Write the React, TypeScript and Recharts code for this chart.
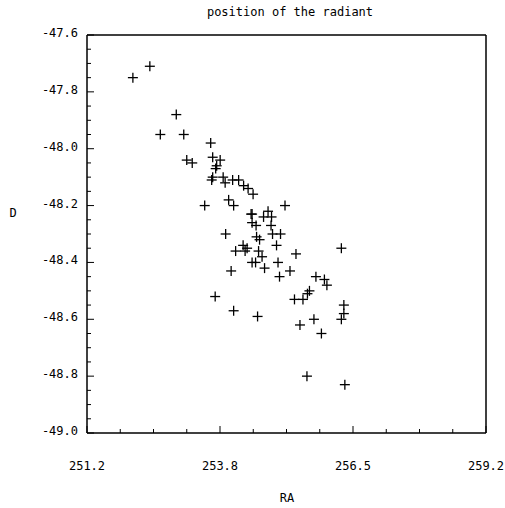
import { ScatterChart, Scatter, XAxis, YAxis } from 'recharts';

const RA = [252.12, 252.46, 252.99, 252.67, 253.14, 253.68, 253.2, 253.31, 253.72, 253.87, 253.8, 253.78, 253.7, 253.72, 253.93, 253.97, 254.12, 254.24, 254.34, 254.43, 254.53, 253.56, 254.04, 254.14, 254.49, 254.51, 254.83, 254.74, 254.9, 255.17, 254.51, 254.59, 254.89, 253.98, 254.6, 254.66, 254.92, 255.08, 255.0, 254.33, 254.18, 254.41, 254.37, 254.64, 254.71, 255.39, 256.3, 254.09, 254.51, 254.58, 254.76, 255.03, 255.27, 255.06, 255.79, 255.96, 256.01, 255.66, 255.62, 255.36, 255.53, 253.77, 254.14, 254.62, 256.35, 256.35, 256.3, 255.75, 255.47, 255.9, 255.61, 256.37];
const DEC = [-47.75, -47.71, -47.88, -47.95, -47.95, -47.98, -48.04, -48.05, -48.03, -48.04, -48.06, -48.07, -48.11, -48.1, -48.1, -48.12, -48.11, -48.11, -48.13, -48.14, -48.16, -48.2, -48.18, -48.2, -48.23, -48.23, -48.22, -48.24, -48.24, -48.2, -48.26, -48.27, -48.27, -48.3, -48.31, -48.32, -48.3, -48.3, -48.34, -48.34, -48.36, -48.35, -48.36, -48.36, -48.38, -48.37, -48.35, -48.43, -48.4, -48.4, -48.42, -48.4, -48.43, -48.45, -48.45, -48.46, -48.48, -48.5, -48.51, -48.53, -48.53, -48.52, -48.57, -48.59, -48.55, -48.58, -48.6, -48.6, -48.62, -48.65, -48.8, -48.83];

const X_MIN = 251.2;
const X_MAX = 259.2;
const X_LABELS = ['251.2', '253.8', '256.5', '259.2'];
const Y_MIN = -49.0;
const Y_MAX = -47.6;

const data = RA.map((ra, i) => ({ ra, dec: DEC[i] }));
const xTicks = Array.from({ length: 13 }, (_, i) => X_MIN + ((X_MAX - X_MIN) * i) / 12);
const yTicks = Array.from({ length: 29 }, (_, i) => Math.round((Y_MIN + i * 0.05) * 100) / 100);

const font = { fontFamily: 'DejaVu Sans Mono', fontSize: 12, fill: '#000' };

const Plus = ({ cx, cy }: any) => (
  <g stroke="#000" strokeWidth={1.3}>
    <line x1={cx - 5} y1={cy} x2={cx + 5} y2={cy} />
    <line x1={cx} y1={cy - 5} x2={cx} y2={cy + 5} />
  </g>
);

const makeXTick = (side: 'bottom' | 'top') => ({ x, y, index }: any) => {
  const major = index % 4 === 0;
  const len = major ? 7 : 4;
  const dir = side === 'bottom' ? -1 : 1;
  return (
    <g>
      <line x1={x} y1={y} x2={x} y2={y + dir * len} stroke="#000" />
      {side === 'bottom' && major && (
        <text x={x} y={y + 37} textAnchor="middle" {...font}>{X_LABELS[index / 4]}</text>
      )}
    </g>
  );
};

const makeYTick = (side: 'left' | 'right') => ({ x, y, payload }: any) => {
  const v = payload.value;
  const major = Math.abs(Math.round(v * 5) - v * 5) < 1e-6;
  const len = major ? 7 : 4;
  const dir = side === 'left' ? 1 : -1;
  return (
    <g>
      <line x1={x} y1={y} x2={x + dir * len} y2={y} stroke="#000" />
      {side === 'left' && major && (
        <text x={x - 9} y={y + 2} textAnchor="end" {...font}>{v.toFixed(1)}</text>
      )}
    </g>
  );
};

export default function App() {
  return (
    <div style={{ position: 'absolute', left: 0, top: 0, width: 505, height: 508, background: '#fff' }}>
      <ScatterChart width={505} height={508} margin={{ top: 34, right: 18, bottom: 45, left: 7 }}>
        <text x={290} y={16} textAnchor="middle" {...font}>position of the radiant</text>
        <text x={13} y={217} textAnchor="middle" {...font}>D</text>
        <text x={287} y={502} textAnchor="middle" {...font}>RA</text>
        <XAxis xAxisId="b" dataKey="ra" type="number" domain={[X_MIN, X_MAX]} ticks={xTicks}
          interval={0} tickSize={0} tickMargin={0} tickLine={false} height={30}
          stroke="#000" strokeWidth={1.5} tick={makeXTick('bottom')} />
        <XAxis xAxisId="t" orientation="top" dataKey="ra" type="number" domain={[X_MIN, X_MAX]} ticks={xTicks}
          interval={0} tickSize={0} tickMargin={0} tickLine={false} height={1}
          stroke="#000" strokeWidth={1.5} tick={makeXTick('top')} />
        <YAxis yAxisId="l" dataKey="dec" type="number" domain={[Y_MIN, Y_MAX]} ticks={yTicks}
          interval={0} tickSize={0} tickMargin={0} tickLine={false} width={80}
          stroke="#000" strokeWidth={1.5} tick={makeYTick('left')} />
        <YAxis yAxisId="r" orientation="right" dataKey="dec" type="number" domain={[Y_MIN, Y_MAX]} ticks={yTicks}
          interval={0} tickSize={0} tickMargin={0} tickLine={false} width={1}
          stroke="#000" strokeWidth={1.5} tick={makeYTick('right')} />
        <Scatter data={data} xAxisId="b" yAxisId="l" shape={<Plus />} isAnimationActive={false} />
      </ScatterChart>
    </div>
  );
}
